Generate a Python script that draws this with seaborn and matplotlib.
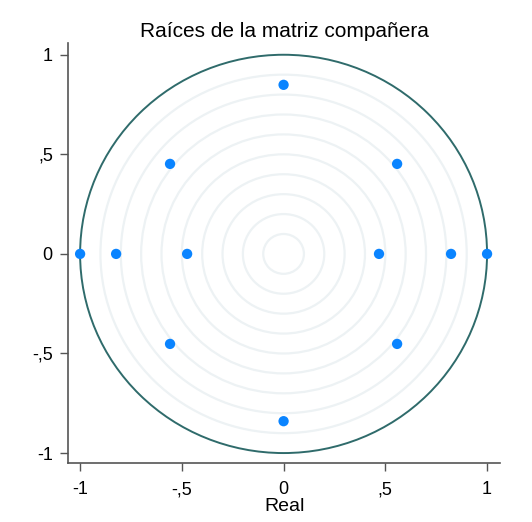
import numpy as np
import pandas as pd
import matplotlib
matplotlib.use("Agg")
import matplotlib.pyplot as plt
from matplotlib.patches import Circle
import seaborn as sns

# Data: eigenvalues (real, imaginary)
real_part = [0.0, 0.558, 0.558, -0.558, -0.558, 0.0, -1.0, -0.823, -0.474, 0.469, 0.823, 1.0]
imag_part = [0.849, 0.452, -0.452, 0.452, -0.452, -0.84, 0.0, 0.0, 0.0, 0.0, 0.0, 0.0]
tick_values = [-1, -0.5, 0, 0.5, 1]
tick_labels = ["-1", "-,5", "0", ",5", "1"]
grid_radii = [0.1, 0.2, 0.3, 0.4, 0.5, 0.6, 0.7, 0.8, 0.9]

sns.set_theme(style="white")
plt.rcParams["font.family"] = ["Liberation Sans", "DejaVu Sans"]
plt.rcParams["text.color"] = "black"
plt.rcParams["axes.labelcolor"] = "black"

fig = plt.figure(figsize=(5.32, 5.22), dpi=100)
ax = fig.add_axes([0.128, 0.113, 0.812, 0.805])

for r in grid_radii:
    ax.add_patch(Circle((0, 0), r, fill=False, edgecolor="#edf2f4", linewidth=1.6, zorder=1))
ax.add_patch(Circle((0, 0), 1.0, fill=False, edgecolor="#2f6b6b", linewidth=1.4, zorder=2))

df = pd.DataFrame({"Real": real_part, "Imag": imag_part})
sns.scatterplot(data=df, x="Real", y="Imag", ax=ax, color="#0a84ff", s=55,
                edgecolor="none", zorder=3)

ax.set_xlim(-1.059, 1.064)
ax.set_ylim(-1.05, 1.06)
ax.set_xticks(tick_values)
ax.set_xticklabels(tick_labels)
ax.set_yticks(tick_values)
ax.set_yticklabels(tick_labels)
ax.tick_params(axis="both", direction="out", length=6, width=1, color="#555555",
               labelsize=13, labelcolor="black", left=True, bottom=True)
ax.tick_params(axis="x", pad=7)
ax.tick_params(axis="y", pad=5)
for s in ["top", "right"]:
    ax.spines[s].set_visible(False)
for s in ["left", "bottom"]:
    ax.spines[s].set_color("#555555")
    ax.spines[s].set_linewidth(1.2)
ax.set_xlabel("Real", fontsize=14, labelpad=0, color="black")
ax.set_ylabel("")
ax.set_title("Raíces de la matriz compañera", fontsize=15, pad=4, color="black")

fig.savefig("out.png", dpi=100)
